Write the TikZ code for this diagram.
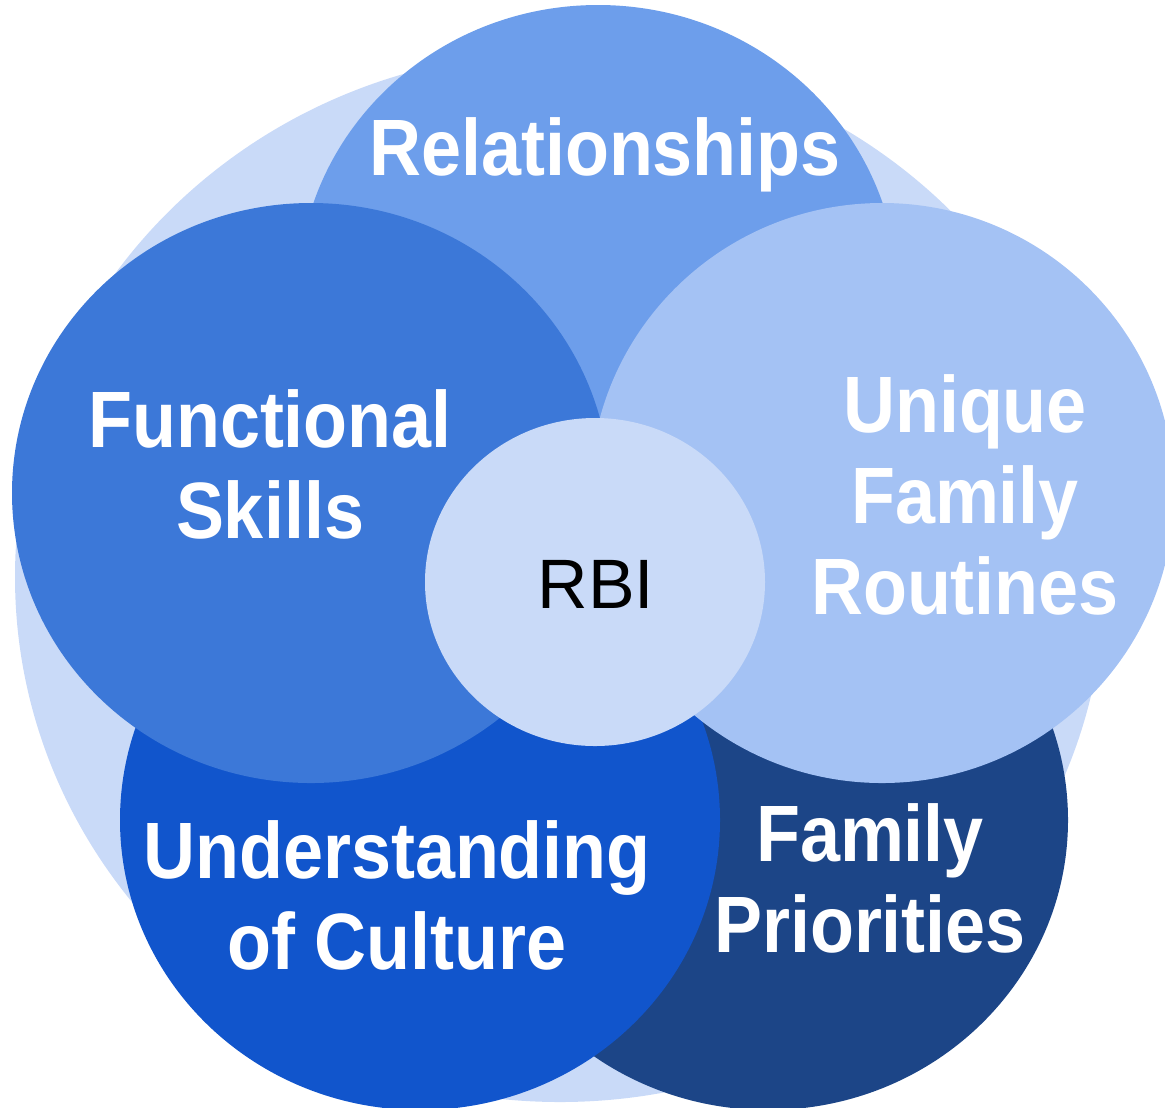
\documentclass[tikz,border=0pt]{standalone}
\usepackage{fontspec}
\setmainfont{Liberation Sans}
\newfontfamily\headfont{Liberation Sans}[FakeStretch=0.9]

\definecolor{paleblue}{HTML}{C9DAF8}
\definecolor{relblue}{HTML}{6D9EEB}
\definecolor{funcblue}{HTML}{3C78D8}
\definecolor{routblue}{HTML}{A4C2F4}
\definecolor{cultblue}{HTML}{1155CC}
\definecolor{prioblue}{HTML}{1C4587}

\begin{document}
\begin{tikzpicture}[x=0.02cm,y=-0.02cm,
    area/.style={text=white, align=center,
      font=\headfont\bfseries\fontsize{45.5}{51.8}\selectfont}]
    \useasboundingbox (0,0) rectangle (1165,1107);
    \clip (0,0) rectangle (1165,1107);

    % backdrop and the five areas, back to front
    \fill[paleblue] (560,577) ellipse [x radius=545, y radius=525];
    \fill[relblue]  (598,295) ellipse [x radius=300, y radius=290];
    \fill[prioblue] (768,820) ellipse [x radius=300, y radius=290];
    \fill[cultblue] (420,820) ellipse [x radius=300, y radius=290];
    \fill[funcblue] (311,493) ellipse [x radius=299, y radius=290];
    \fill[routblue] (882,493) ellipse [x radius=292, y radius=290];
    \fill[paleblue] (595,582) ellipse [x radius=170, y radius=164];

    \node[area, anchor=base] (rel) at (605,175) {Relationships};
    \node[area] (func) at (270,464) {Functional\\Skills};
    \node[area] (rout) at (965,495) {Unique\\Family\\Routines};
    \node[area] (cult) at (397,895) {Understanding\\of Culture};
    \node[area] (prio) at (870,878) {Family\\Priorities};

    \node[anchor=base, font=\fontsize{39.8}{48}\selectfont] (rbi) at (596,608) {RBI};
  \end{tikzpicture}
\end{document}
